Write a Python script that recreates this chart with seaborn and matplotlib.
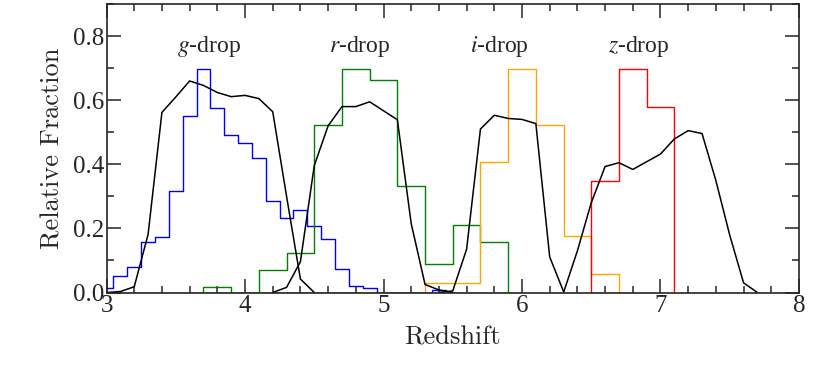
import numpy as np
import pandas as pd
import matplotlib
matplotlib.use("Agg")
import matplotlib.pyplot as plt
import seaborn as sns
from matplotlib.ticker import MultipleLocator

# step histograms: bin centres (width 0.1 or 0.2) and heights
g_centres = np.round(np.arange(3.0, 5.45, 0.1), 2)
g_vals = [0.013, 0.052, 0.080, 0.159, 0.172, 0.318, 0.550, 0.697, 0.577, 0.491,
          0.465, 0.419, 0.285, 0.232, 0.258, 0.206, 0.166, 0.073, 0.019, 0.013,
          0.0, 0.0, 0.0, 0.0, 0.008]
r_centres = np.round(np.arange(3.8, 5.85, 0.2), 2)
r_vals = [0.017, 0.0, 0.070, 0.124, 0.523, 0.698, 0.663, 0.332, 0.088, 0.210, 0.158]
i_centres = np.round(np.arange(5.4, 6.65, 0.2), 2)
i_vals = [0.029, 0.029, 0.406, 0.696, 0.523, 0.175, 0.057]
z_centres = [6.6, 6.8, 7.0]
z_vals = [0.349, 0.698, 0.580]

# selection functions (black curves)
g_sel_z = [3.0, 3.1, 3.2, 3.3, 3.4, 3.5, 3.6, 3.7, 3.8, 3.9, 4.0, 4.1, 4.2, 4.3, 4.4, 4.5]
g_sel = [0.0, 0.003, 0.018, 0.181, 0.562, 0.610, 0.660, 0.646, 0.624, 0.611, 0.615,
         0.605, 0.564, 0.300, 0.042, 0.0]
r_sel_z = [4.2, 4.3, 4.4, 4.5, 4.6, 4.7, 4.8, 4.9, 5.0, 5.1, 5.2, 5.3, 5.4, 5.5]
r_sel = [0.0, 0.016, 0.096, 0.396, 0.520, 0.580, 0.580, 0.595, 0.567, 0.539, 0.215,
         0.025, 0.008, 0.0]
i_sel_z = [5.4, 5.5, 5.6, 5.7, 5.8, 5.9, 6.0, 6.1, 6.2, 6.3]
i_sel = [0.0, 0.005, 0.135, 0.510, 0.553, 0.543, 0.540, 0.527, 0.111, 0.003]
z_sel_z = [6.3, 6.4, 6.5, 6.6, 6.7, 6.8, 6.9, 7.0, 7.1, 7.2, 7.3, 7.4, 7.5, 7.6, 7.7]
z_sel = [0.0, 0.130, 0.280, 0.393, 0.405, 0.384, 0.408, 0.432, 0.479, 0.505, 0.496,
         0.349, 0.179, 0.030, 0.0]

labels = [r"$g$-drop", r"$r$-drop", r"$i$-drop", r"$z$-drop"]
label_x = [3.74, 4.83, 5.84, 6.84]
colors = ["#0000ff", "#008000", "#ffa500", "#ff0000"]

sns.set_style("ticks")
plt.rcParams["font.family"] = ["Liberation Serif", "DejaVu Serif"]
plt.rcParams["mathtext.fontset"] = "stix"

fig, ax = plt.subplots(figsize=(8.22, 3.66), dpi=100)
fig.subplots_adjust(left=0.1296, right=0.972, top=0.989, bottom=0.2008)

hists = [(g_centres, g_vals, 0.1), (r_centres, r_vals, 0.2),
         (i_centres, i_vals, 0.2), (z_centres, z_vals, 0.2)]
for (c, v, w), col in zip(hists, colors):
    df = pd.DataFrame({"z": np.asarray(c, dtype=float), "frac": v})
    edges = list(np.append(df["z"] - w / 2, df["z"].iloc[-1] + w / 2))
    # filled step with transparent face -> outline drops to zero at both ends
    sns.histplot(data=df, x="z", weights="frac", bins=edges, element="step",
                 fill=True, color=col, facecolor="none", edgecolor=col,
                 linewidth=1.0, ax=ax)

for zz, ss in [(g_sel_z, g_sel), (r_sel_z, r_sel), (i_sel_z, i_sel), (z_sel_z, z_sel)]:
    sns.lineplot(x=zz, y=ss, color="black", linewidth=1.1, ax=ax)

for lab, lx in zip(labels, label_x):
    ax.text(lx, 0.769, lab, ha="center", va="center", fontsize=17)

ax.set_xlim(3, 8)
ax.set_ylim(0, 0.9)
ax.xaxis.set_major_locator(MultipleLocator(1))
ax.xaxis.set_minor_locator(MultipleLocator(0.2))
ax.yaxis.set_major_locator(MultipleLocator(0.2))
ax.yaxis.set_minor_locator(MultipleLocator(0.1))
ax.yaxis.set_major_formatter(matplotlib.ticker.FormatStrFormatter("%.1f"))
ax.tick_params(which="both", direction="in", top=True, right=True, labelsize=18, width=1.1)
ax.tick_params(which="major", length=10, pad=2)
ax.tick_params(which="minor", length=5)
for sp in ax.spines.values():
    sp.set_linewidth(1.2)

ax.set_xlabel("Redshift", fontsize=19, family="cmr10", labelpad=6)
ax.set_ylabel("Relative Fraction", fontsize=19, family="cmr10", labelpad=6)

fig.savefig("out.png", dpi=100)
